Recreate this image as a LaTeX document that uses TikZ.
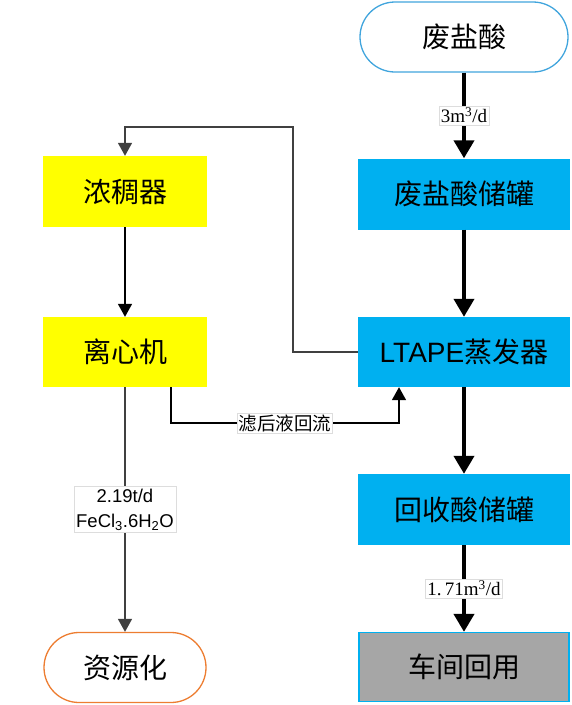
\documentclass[tikz,border=0pt]{standalone}
\usepackage{fontspec}
\setmainfont{Noto Sans CJK SC}
\newfontfamily\numfont{Liberation Serif}
\newfontfamily\latfont{Liberation Sans}
\usetikzlibrary{arrows.meta}
\definecolor{cyanbox}{HTML}{00B0F0}
\definecolor{yelbox}{HTML}{FFFF00}
\definecolor{graybox}{HTML}{A6A6A6}
\definecolor{srcline}{HTML}{41A5DD}
\definecolor{orgline}{HTML}{ED7D31}
\definecolor{darkln}{HTML}{404040}
\definecolor{lblline}{HTML}{DDDDDD}
\begin{document}
\begin{tikzpicture}[x=1pt,y=-1pt,
  boxbase/.style={minimum width=212pt,minimum height=71pt,inner sep=0pt,font=\fontsize{28}{31}\selectfont},
  cybox/.style={boxbase,fill=cyanbox},
  yebox/.style={boxbase,fill=yelbox,minimum width=164pt},
  termbox/.style={boxbase,draw,line width=1.3pt,rounded corners=35pt,fill=white},
  thickarr/.style={line width=4pt,-{Triangle[width=20pt,length=18pt]}},
  blkarr/.style={line width=1.6pt,-{Triangle[width=14pt,length=13pt]}},
  grayarr/.style={line width=1.6pt,draw=darkln,-{Triangle[width=14pt,length=13pt]}},
  lbl/.style={fill=white,draw=lblline,line width=0.6pt,inner sep=2pt,text=black},
]
\useasboundingbox (0,0) rectangle (572,705);
% right column
\node[termbox,draw=srcline,minimum width=208pt,minimum height=70pt] (src) at (464,37) {废盐酸};
\node[cybox] (tank1) at (464,194) {废盐酸储罐};
\node[cybox,minimum height=70pt] (evap) at (464,352) {{\latfont LTAPE}蒸发器};
\node[cybox] (tank2) at (464,509.5) {回收酸储罐};
\node[boxbase,fill=graybox,draw=cyanbox,line width=1.3pt,minimum width=210pt,minimum height=69pt] (reuse) at (464,667) {车间回用};
% left column
\node[yebox] (thick) at (125,191.5) {浓稠器};
\node[yebox,minimum height=70pt] (cent) at (125,352) {离心机};
\node[termbox,draw=orgline,minimum width=162pt,minimum height=70pt] (res) at (125,667.5) {资源化};
% connectors
\draw[thickarr] (src) -- node[lbl,font=\numfont\fontsize{19}{21}\selectfont]{3m\textsuperscript{3}/d} (tank1);
\draw[thickarr] (tank1) -- (evap);
\draw[thickarr] (evap) -- (tank2);
\draw[thickarr] (tank2) -- node[lbl,font=\numfont\fontsize{19}{21}\selectfont]{1.\,71m\textsuperscript{3}/d} (reuse);
\coordinate (fb) at (293,127);
\draw[grayarr] (evap.west) -| (fb) -| (thick.north);
\draw[blkarr] (thick) -- (cent);
\coordinate (r1) at (171,423);
\coordinate (r2) at (399,423);
\draw[blkarr] (r1 |- cent.south) -- (r1) -- node[lbl,inner sep=1.5pt,font=\fontsize{18.5}{20}\selectfont]{滤后液回流} (r2) -- (r2 |- evap.south);
\draw[grayarr] (cent) -- node[lbl,align=center,font=\latfont\fontsize{18.5}{25}\selectfont,inner sep=2pt]{2.19t/d\\FeCl\textsubscript{3}.6H\textsubscript{2}O} (res);
\end{tikzpicture}
\end{document}
